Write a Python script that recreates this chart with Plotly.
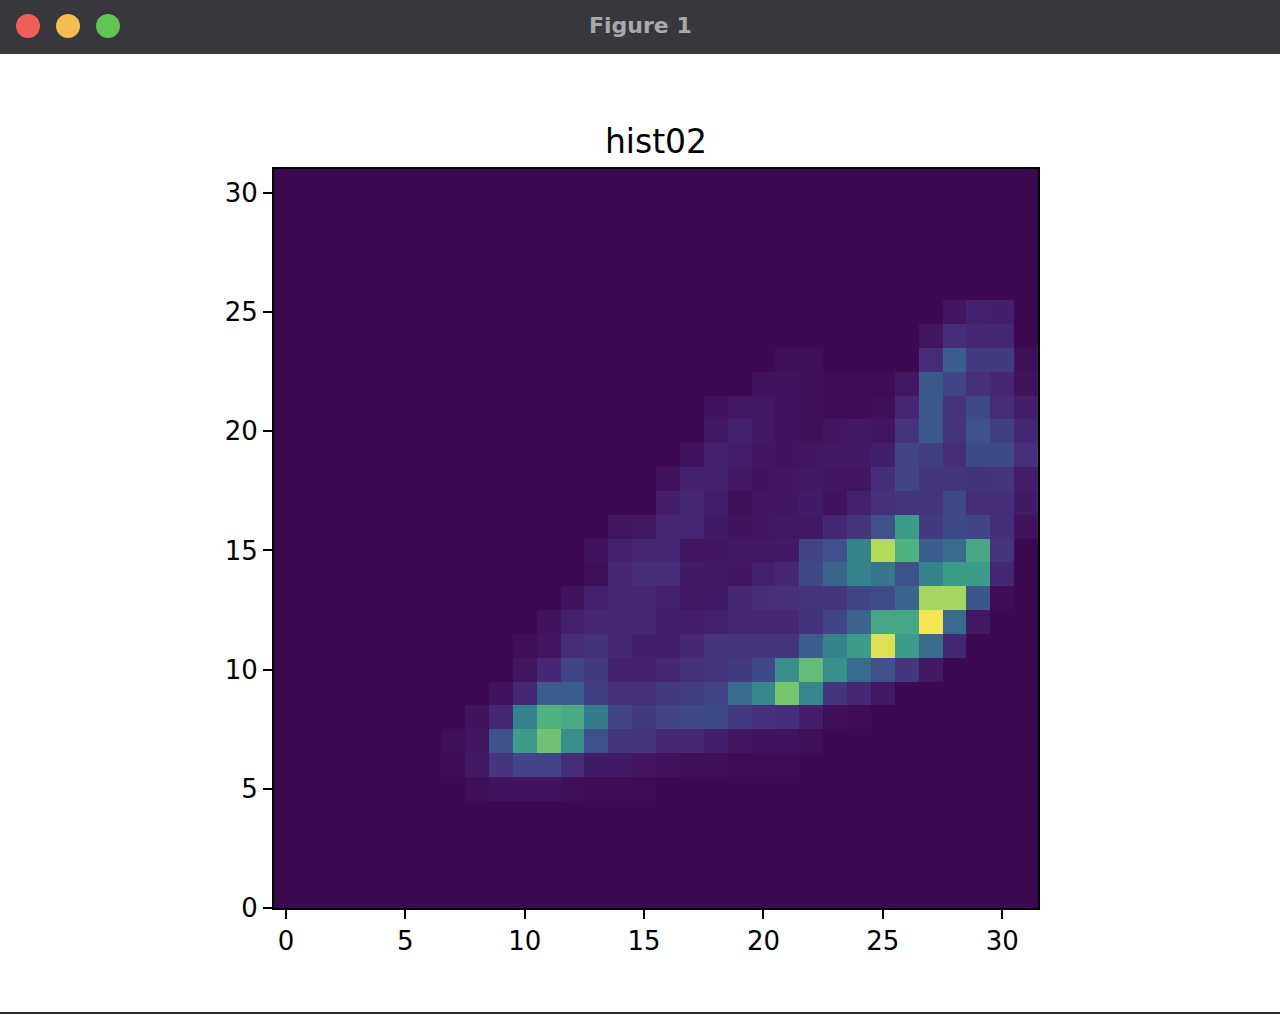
import plotly.graph_objects as go

# 32 x 32 histogram, rows listed bottom (y=0) to top (y=31), values 0-100
x_bins = list(range(32))
y_bins = list(range(32))

rows = {
    5:  {8: 2, 9: 3, 10: 3, 11: 3, 12: 2, 13: 1, 14: 1, 15: 1},
    6:  {7: 1, 8: 5, 9: 15, 10: 20, 11: 20, 12: 12, 13: 6, 14: 6, 15: 4, 16: 3,
         17: 2, 18: 2, 19: 1, 20: 1, 21: 1},
    7:  {7: 2, 8: 4, 9: 25, 10: 55, 11: 73, 12: 50, 13: 25, 14: 15, 15: 15, 16: 10,
         17: 10, 18: 7, 19: 4, 20: 3, 21: 3, 22: 2},
    8:  {8: 3, 9: 10, 10: 45, 11: 65, 12: 62, 13: 42, 14: 20, 15: 17, 16: 20, 17: 22,
         18: 22, 19: 17, 20: 13, 21: 12, 22: 7, 23: 2, 24: 1},
    9:  {9: 3, 10: 10, 11: 30, 12: 30, 13: 18, 14: 13, 15: 13, 16: 17, 17: 18, 18: 20,
         19: 35, 20: 47, 21: 75, 22: 47, 23: 15, 24: 10, 25: 5},
    10: {10: 4, 11: 10, 12: 20, 13: 17, 14: 8, 15: 8, 16: 10, 17: 13, 18: 15, 19: 17,
         20: 22, 21: 50, 22: 70, 23: 50, 24: 35, 25: 25, 26: 15, 27: 5},
    11: {10: 2, 11: 4, 12: 12, 13: 14, 14: 10, 15: 7, 16: 7, 17: 10, 18: 15, 19: 15,
         20: 15, 21: 15, 22: 30, 23: 45, 24: 55, 25: 95, 26: 55, 27: 35, 28: 10},
    12: {11: 3, 12: 8, 13: 10, 14: 10, 15: 10, 16: 7, 17: 7, 18: 8, 19: 10, 20: 10,
         21: 10, 22: 14, 23: 20, 24: 32, 25: 60, 26: 60, 27: 100, 28: 35, 29: 5},
    13: {12: 3, 13: 8, 14: 10, 15: 10, 16: 8, 17: 5, 18: 6, 19: 10, 20: 12, 21: 13,
         22: 15, 23: 15, 24: 20, 25: 23, 26: 33, 27: 85, 28: 85, 29: 27, 30: 1},
    14: {13: 2, 14: 10, 15: 12, 16: 12, 17: 6, 18: 5, 19: 4, 20: 8, 21: 10, 22: 22,
         23: 33, 24: 45, 25: 40, 26: 25, 27: 45, 28: 55, 29: 55, 30: 10},
    15: {13: 3, 14: 8, 15: 10, 16: 10, 17: 4, 18: 4, 19: 5, 20: 5, 21: 6, 22: 20,
         23: 25, 24: 45, 25: 88, 26: 65, 27: 30, 28: 35, 29: 60, 30: 15},
    16: {14: 4, 15: 5, 16: 10, 17: 10, 18: 6, 19: 3, 20: 4, 21: 5, 22: 5, 23: 10,
         24: 15, 25: 25, 26: 55, 27: 17, 28: 22, 29: 20, 30: 12, 31: 3},
    17: {16: 7, 17: 10, 18: 7, 19: 2, 20: 4, 21: 4, 22: 6, 23: 3, 24: 8, 25: 13,
         26: 15, 27: 15, 28: 22, 29: 12, 30: 12, 31: 6},
    18: {16: 3, 17: 8, 18: 8, 19: 5, 20: 3, 21: 4, 22: 5, 23: 4, 24: 4, 25: 12,
         26: 20, 27: 15, 28: 15, 29: 14, 30: 15, 31: 7},
    19: {17: 3, 18: 8, 19: 7, 20: 4, 21: 3, 22: 4, 23: 5, 24: 5, 25: 7, 26: 20,
         27: 18, 28: 12, 29: 22, 30: 22, 31: 13},
    20: {18: 5, 19: 8, 20: 5, 21: 3, 22: 2, 23: 4, 24: 5, 25: 4, 26: 15, 27: 28,
         28: 15, 29: 25, 30: 18, 31: 10},
    21: {18: 3, 19: 5, 20: 5, 21: 3, 22: 2, 23: 1, 24: 1, 25: 2, 26: 10, 27: 28,
         28: 15, 29: 22, 30: 12, 31: 7},
    22: {20: 3, 21: 3, 22: 2, 23: 1, 24: 1, 25: 1, 26: 5, 27: 28, 28: 20, 29: 13,
         30: 10, 31: 3},
    23: {21: 2, 22: 2, 27: 12, 28: 30, 29: 17, 30: 17, 31: 2},
    24: {27: 4, 28: 12, 29: 10, 30: 10},
    25: {28: 4, 29: 8, 30: 7},
}

z = [[rows.get(j, {}).get(i, 0) for i in x_bins] for j in y_bins]

# viridis, as it looks on the reference screen
cscale = [
    [0.0, "#3d0a51"], [0.111, "#472a78"], [0.222, "#3f4a8a"],
    [0.333, "#3a678d"], [0.444, "#34828d"], [0.556, "#3d9c8a"],
    [0.667, "#55b47e"], [0.778, "#84cb6b"], [0.889, "#b7dc55"],
    [1.0, "#f8e552"],
]

fig = go.Figure(go.Heatmap(
    x=x_bins, y=y_bins, z=z,
    colorscale=cscale, zmin=0, zmax=100,
    showscale=False, hoverinfo="x+y+z",
))

W, H = 1280, 1016
L, R, T, B = 274, 1038, 169, 908   # plot area in px

def px_x(v):
    return (v - L) / (R - L)

def px_y(v):
    return (B - v) / (B - T)

axis = dict(
    showgrid=False, zeroline=False,
    showline=True, linecolor="black", linewidth=2, mirror=True,
    ticks="outside", ticklen=9, tickwidth=2, tickcolor="black",
    dtick=5, tick0=0,
    tickfont=dict(family="DejaVu Sans", size=26, color="black"),
)

fig.update_layout(
    width=W, height=H,
    margin=dict(l=L, r=W - R, t=T, b=H - B),
    paper_bgcolor="white", plot_bgcolor="white",
    title=dict(text="hist02", xref="paper", x=0.5, xanchor="center",
               y=1 - 141 / H, yanchor="middle",
               font=dict(family="DejaVu Sans", size=33, color="black")),
    xaxis=dict(axis, range=[-0.5, 31.5]),
    yaxis=dict(axis, range=[0, 31]),
)

# window title bar of the screenshot
shapes = [
    dict(type="rect", xref="paper", yref="paper",
         x0=px_x(0), x1=px_x(W), y0=px_y(54), y1=px_y(0),
         fillcolor="#38373b", line=dict(width=0), layer="above"),
    dict(type="line", xref="paper", yref="paper",
         x0=px_x(0), x1=px_x(W), y0=px_y(1013), y1=px_y(1013),
         line=dict(color="#2b2b2b", width=2)),
]
for cx, col in [(28, "#ee5f57"), (68, "#f5bd4f"), (108, "#61c554")]:
    shapes.append(dict(type="circle", xref="paper", yref="paper",
                       x0=px_x(cx - 12), x1=px_x(cx + 12),
                       y0=px_y(38), y1=px_y(14),
                       fillcolor=col, line=dict(width=0), layer="above"))
fig.update_layout(shapes=shapes)

fig.add_annotation(text="<b>Figure 1</b>", xref="paper", yref="paper",
                   x=px_x(640), y=px_y(25), xanchor="center", yanchor="middle",
                   showarrow=False,
                   font=dict(family="DejaVu Sans", size=22, color="#a9a9ab"))

# drop the default body margin so the figure sits at the page corner
fig.write_html("out.html", config={"displayModeBar": False},
               post_script="document.body.style.margin='0';")
